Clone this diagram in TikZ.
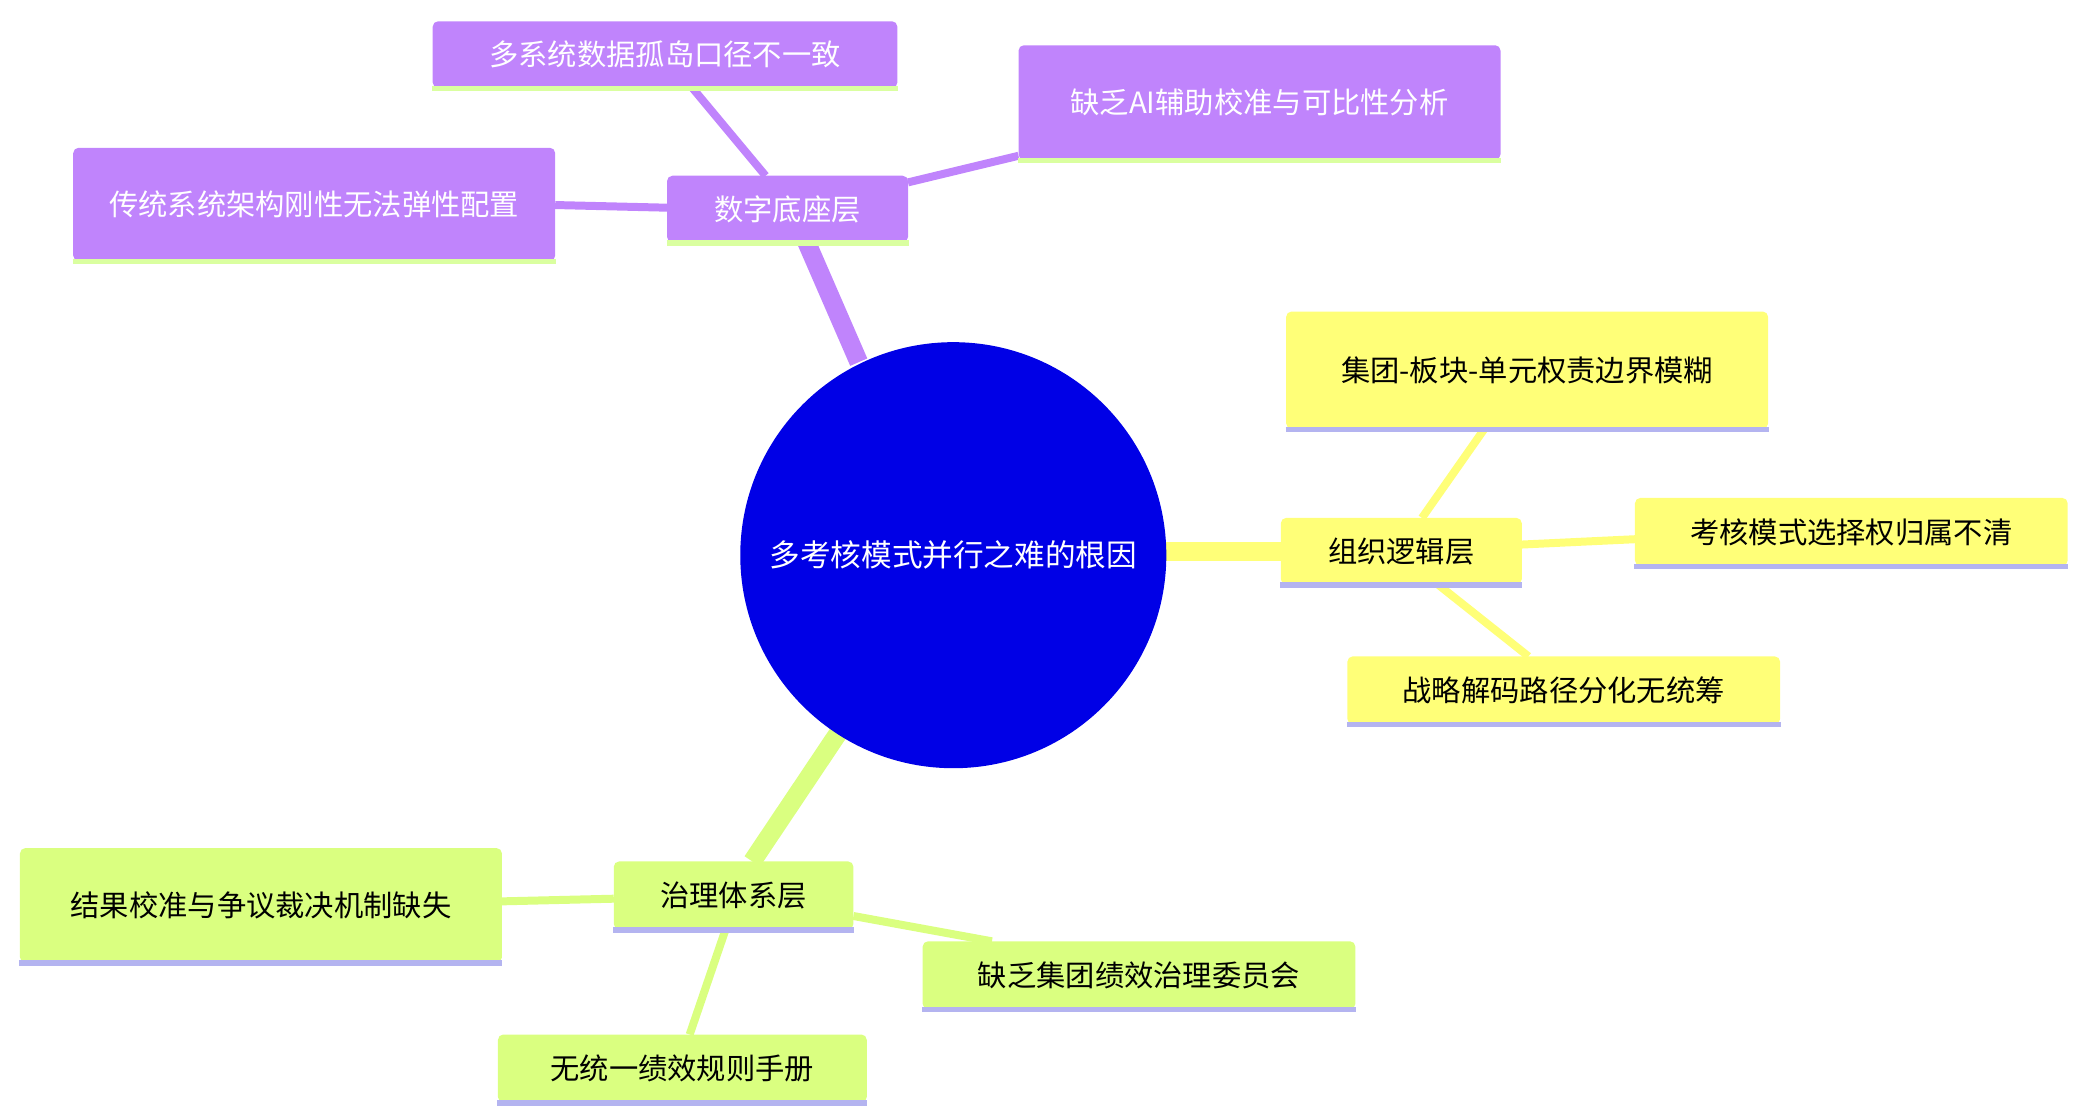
\documentclass[tikz,border=0pt]{standalone}
\usepackage{fontspec}
\newfontfamily\cjk{Noto Sans CJK SC}
\definecolor{pur}{HTML}{C084FC}
\definecolor{yel}{HTML}{FFFF78}
\definecolor{grn}{HTML}{DAFF80}
\definecolor{lav}{HTML}{B4B4F0}
\definecolor{lgrn}{HTML}{DAFFA0}
\definecolor{cblue}{HTML}{0000E6}
\begin{document}
\begin{tikzpicture}[x=0.5pt,y=-0.5pt,
  box/.style={rounded corners=2pt,inner sep=0pt,align=center,font=\cjk\fontsize{11}{18}\selectfont,text width=#1},
  pbox/.style={box=#1,fill=pur,text=white},
  ybox/.style={box=#1,fill=yel,text=black},
  gbox/.style={box=#1,fill=grn,text=black},
  main/.style={line width=7pt},
  sub/.style={line width=3pt}]
\useasboundingbox (0,0) rectangle (1560,839);
% nodes positioned by center, size by min width/height
\newcommand{\bx}[7]{% name, style, x1,y1,x2,y2,text,
  \node[#2={#5pt/2-#3pt/2}, minimum width={(#5-#3)*0.5pt}, minimum height={(#6-#4)*0.5pt}] (#1) at ({(#3+#5)/2},{(#4+#6)/2}) {#7};}
\coordinate (c) at (716,417);
% edges
\draw[main,pur] (645,272) -- (605,180);
\draw[main,yel] (876,414) -- (962,414);
\draw[main,grn] (630,550) -- (565,647);
\draw[sub,pur] (575,132) -- (520,66);
\draw[sub,pur] (682,137) -- (765,117);
\draw[sub,pur] (501,156) -- (417,154);
\draw[sub,yel] (1068,389) -- (1115,322);
\draw[sub,yel] (1143,409) -- (1228,405);
\draw[sub,yel] (1080,439) -- (1148,493);
\draw[sub,grn] (461,675) -- (377,677);
\draw[sub,grn] (641,688) -- (745,707);
\draw[sub,grn] (545,698) -- (518,777);
\node[circle,fill=cblue,minimum size=160pt,inner sep=0pt,text=white,font=\cjk\fontsize{11.5}{14}\selectfont] (root) at (c) {多考核模式并行之难的根因};
\node[pbox=85pt,minimum width=90.5pt,minimum height=25pt] (d) at (591.5,157) {数字底座层};
\node[pbox=170pt,minimum width=174.5pt,minimum height=25pt] (d1) at (499.5,41) {多系统数据孤岛口径不一致};
\node[pbox=165pt,minimum width=181pt,minimum height=43pt] (d2) at (946,77) {缺乏AI辅助校准与可比性分析};
\node[pbox=165pt,minimum width=181pt,minimum height=42.5pt] (d3) at (236,153.5) {传统系统架构刚性无法弹性配置};
\node[ybox=85pt,minimum width=90.5pt,minimum height=25pt] (o) at (1052.5,414) {组织逻辑层};
\node[ybox=165pt,minimum width=181pt,minimum height=44pt] (o1) at (1147,278) {集团-板块-单元权责边界模糊};
\node[ybox=160pt,minimum width=162.5pt,minimum height=25.5pt] (o2) at (1390.5,399.5) {考核模式选择权归属不清};
\node[ybox=160pt,minimum width=162.5pt,minimum height=25.5pt] (o3) at (1174.5,518.5) {战略解码路径分化无统筹};
\node[gbox=85pt,minimum width=90pt,minimum height=25.5pt] (g) at (551,672.5) {治理体系层};
\node[gbox=165pt,minimum width=181pt,minimum height=43pt] (g1) at (196,680) {结果校准与争议裁决机制缺失};
\node[gbox=160pt,minimum width=162.5pt,minimum height=25.5pt] (g2) at (855.5,732.5) {缺乏集团绩效治理委员会};
\node[gbox=135pt,minimum width=138.5pt,minimum height=25.5pt] (g3) at (512.5,802.5) {无统一绩效规则手册};
\foreach \n in {d,d1,d2,d3} \draw[lgrn,line width=2pt] (\n.south west) -- (\n.south east);
\foreach \n in {o,o1,o2,o3,g,g1,g2,g3} \draw[lav,line width=2pt] (\n.south west) -- (\n.south east);
\end{tikzpicture}
\end{document}
